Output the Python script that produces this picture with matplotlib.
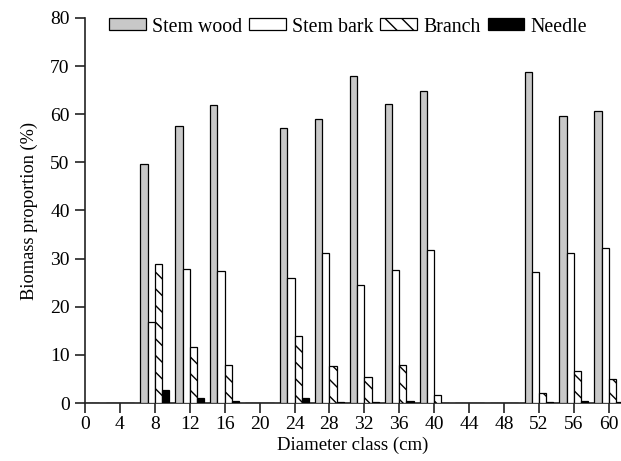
import numpy as np
import matplotlib
matplotlib.use("Agg")
import matplotlib.pyplot as plt

plt.rcParams['font.family'] = ['Liberation Serif', 'DejaVu Serif']
plt.rcParams['hatch.linewidth'] = 1.0

# Clases diametricas y proporciones de biomasa (%)
diameter = [0, 4, 8, 12, 16, 20, 24, 28, 32, 36, 40, 44, 48, 52, 56, 60]
stem_wood = [0, 0, 49.7, 57.5, 62.0, 0, 57.2, 59.0, 68.0, 62.2, 64.8, 0, 0, 68.8, 59.7, 60.7]
stem_bark = [0, 0, 16.8, 27.8, 27.4, 0, 25.9, 31.2, 24.5, 27.6, 31.8, 0, 0, 27.2, 31.2, 32.3]
branch = [0, 0, 28.9, 11.6, 8.0, 0, 13.9, 7.7, 5.4, 7.9, 1.7, 0, 0, 2.1, 6.7, 5.0]
needle = [0, 0, 2.7, 1.0, 0.4, 0, 1.0, 0.3, 0.2, 0.5, 0.1, 0, 0, 0.2, 0.4, 0.3]

series = [
    ("Stem wood", stem_wood, dict(color="#c8c8c8")),
    ("Stem bark", stem_bark, dict(color="white")),
    ("Branch", branch, dict(color="white", hatch="\\\\")),
    ("Needle", needle, dict(color="black")),
]

fig = plt.figure(figsize=(6.21, 4.61), dpi=100)
ax = fig.add_axes([85/621, 1-403/461, 1-85/621, (403-18)/461])

x = np.array(diameter, dtype=float)
w = 0.825
for i, (name, vals, style) in enumerate(series):
    ax.bar(x + (i - 1.5)*w, vals, width=w, edgecolor="black", linewidth=0.9,
           label=name, **style)

ax.set_xlim(0, 61.4)
ax.set_ylim(0, 80)
ax.set_xticks(diameter)
ax.set_yticks(np.arange(0, 81, 10))

for s in ["top", "right"]:
    ax.spines[s].set_visible(False)
for s in ["left", "bottom"]:
    ax.spines[s].set_linewidth(1.2)
    ax.spines[s].set_color("#222222")
ax.spines["bottom"].set_zorder(0)

ax.tick_params(axis="both", direction="out", length=7, width=1.2, colors="#222222",
               labelsize=14, labelcolor="black")
ax.tick_params(axis="x", pad=2)
ax.tick_params(axis="y", pad=4)

ax.set_xlabel("Diameter class (cm)", fontsize=13.5, labelpad=3)
ax.set_ylabel("Biomass proportion (%)", fontsize=13.2, labelpad=9)

fig.legend(loc="center left", bbox_to_anchor=(109/621, 1-27/461), ncol=4,
           frameon=False, fontsize=14.3, handlelength=1.86, handleheight=0.55,
           handletextpad=0.3, columnspacing=0.35, borderpad=0, borderaxespad=0)

fig.savefig("out.png", dpi=100)
